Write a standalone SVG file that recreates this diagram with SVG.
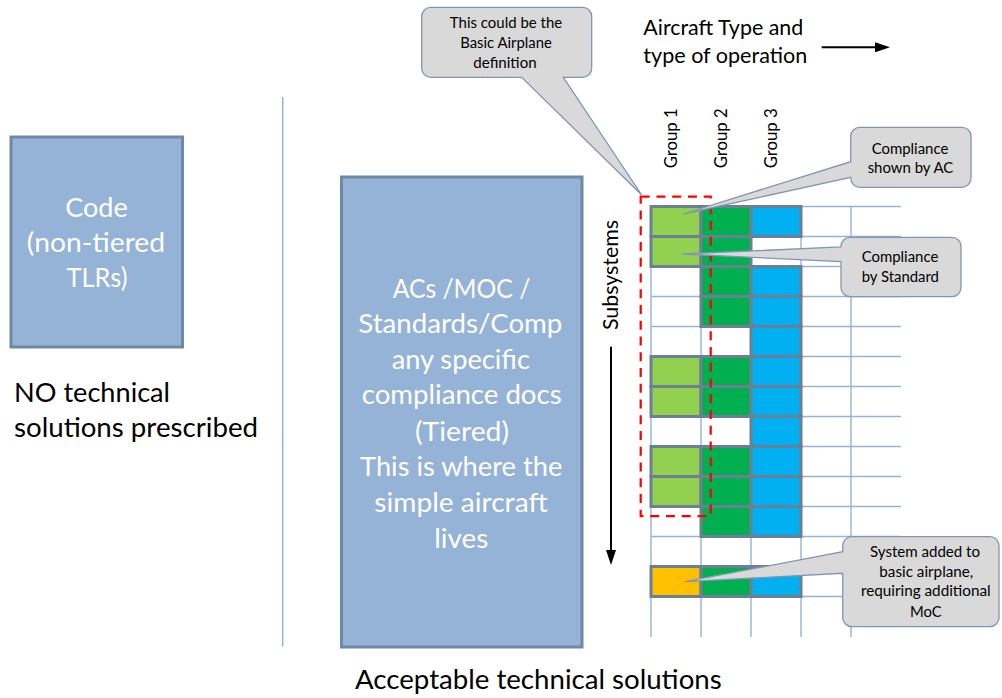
<svg xmlns="http://www.w3.org/2000/svg" width="1002" height="698" viewBox="0 0 1002 698">
  <style>
    .txt { font-family: Lato, "Liberation Sans", sans-serif; fill: #000000; }
    .big { font-size: 26.5px; }
    .mid { font-size: 20.7px; }
    .grp { font-size: 16.3px; }
    .note { font-size: 14.5px; text-anchor: middle; }
    .inbox { font-size: 26.5px; fill: #FFFFFF; text-anchor: middle; }
    .doc { fill: #95B3D7; stroke: #6F89A5; stroke-width: 3; }
    .divider { stroke: #95B3D7; stroke-width: 1.5; fill: none; }
    .gridline { stroke: #95B3D7; stroke-width: 1.4; fill: none; }
    .cell { stroke: #6D7F93; stroke-width: 3; }
    .g1 { fill: #92D050; }
    .g2 { fill: #00B050; }
    .g3 { fill: #00B0F0; }
    .add { fill: #FFC000; }
    .basic { fill: none; stroke: #FF0000; stroke-width: 2.25; stroke-dasharray: 9 6.75; }
    .callout { fill: #D9D9D9; stroke: #7F97B2; stroke-width: 1.3; }
    .arrow { stroke: #000000; stroke-width: 2; fill: none; marker-end: url(#head); }
  </style>
  <defs>
    <marker id="head" markerUnits="userSpaceOnUse" markerWidth="15" markerHeight="10" refX="5" refY="5" orient="auto">
      <path d="M0,0 L15,5 L0,10 Z" fill="#000000"/>
    </marker>
  </defs>

  <rect width="1002" height="698" fill="#FFFFFF"/>

  <!-- left: non-tiered code -->
  <g id="code">
    <rect class="doc" x="11" y="137" width="171.5" height="210"/>
    <text class="txt inbox" x="96.5" y="216.5" textLength="62.7" lengthAdjust="spacingAndGlyphs">Code</text>
    <text class="txt inbox" x="96" y="251.5" textLength="138.3" lengthAdjust="spacingAndGlyphs">(non-tiered</text>
    <text class="txt inbox" x="97" y="286.5" textLength="61" lengthAdjust="spacingAndGlyphs">TLRs)</text>
  </g>
  <g id="no-solutions">
    <text class="txt big" x="14" y="401.5" textLength="156" lengthAdjust="spacingAndGlyphs">NO technical</text>
    <text class="txt big" x="14" y="437" textLength="244" lengthAdjust="spacingAndGlyphs">solutions prescribed</text>
  </g>

  <line id="divider" class="divider" x1="282.7" y1="97" x2="282.7" y2="646.5"/>

  <!-- centre: tiered compliance documents -->
  <g id="tiered">
    <rect class="doc" x="341.5" y="177" width="240.5" height="470"/>
    <text class="txt inbox" x="461.5" y="297.5" textLength="137.7" lengthAdjust="spacingAndGlyphs">ACs /MOC /</text>
    <text class="txt inbox" x="460.3" y="333" textLength="204" lengthAdjust="spacingAndGlyphs">Standards/Comp</text>
    <text class="txt inbox" x="460.8" y="368.5" textLength="138.3" lengthAdjust="spacingAndGlyphs">any specific</text>
    <text class="txt inbox" x="461.7" y="404" textLength="200" lengthAdjust="spacingAndGlyphs">compliance docs</text>
    <text class="txt inbox" x="462" y="440.5" textLength="94" lengthAdjust="spacingAndGlyphs">(Tiered)</text>
    <text class="txt inbox" x="461.2" y="476" textLength="202.3" lengthAdjust="spacingAndGlyphs">This is where the</text>
    <text class="txt inbox" x="461" y="512" textLength="173.3" lengthAdjust="spacingAndGlyphs">simple aircraft</text>
    <text class="txt inbox" x="461.3" y="548" textLength="54" lengthAdjust="spacingAndGlyphs">lives</text>
  </g>
  <g id="acceptable">
    <text class="txt big" x="355" y="689" textLength="366.7" lengthAdjust="spacingAndGlyphs">Acceptable technical solutions</text>
  </g>

  <!-- axis labels -->
  <g id="axis-type">
    <text class="txt mid" x="643.3" y="35" textLength="160" lengthAdjust="spacingAndGlyphs">Aircraft Type and</text>
    <text class="txt mid" x="643.3" y="62.5" textLength="164" lengthAdjust="spacingAndGlyphs">type of operation</text>
  </g>
  <g id="axis-subsystems">
    <text class="txt mid" transform="translate(618,330) rotate(-90)" textLength="110" lengthAdjust="spacingAndGlyphs">Subsystems</text>
  </g>
  <g id="group-labels">
    <text class="txt grp" transform="translate(677.3,168.3) rotate(-90)" textLength="60" lengthAdjust="spacingAndGlyphs">Group 1</text>
    <text class="txt grp" transform="translate(726.9,168.3) rotate(-90)" textLength="60" lengthAdjust="spacingAndGlyphs">Group 2</text>
    <text class="txt grp" transform="translate(776.8,168.3) rotate(-90)" textLength="60" lengthAdjust="spacingAndGlyphs">Group 3</text>
  </g>

  <!-- matrix grid -->
  <g id="grid">
    <path class="gridline" d="M651,206.5 V637 M701,206.5 V637 M751,206.5 V637 M801,206.5 V637 M851,206.5 V637"/>
    <path class="gridline" d="M651,206.5 H901 M651,236.5 H901 M651,266.5 H901 M651,296.5 H901 M651,326.5 H901 M651,356.5 H901 M651,386.5 H901 M651,416.5 H901 M651,446.5 H901 M651,476.5 H901 M651,506.5 H901 M651,536.5 H901 M651,566.5 H901 M651,596.5 H901"/>
  </g>

  <!-- compliance cells: group 1 / group 2 / group 3 -->
  <g id="cells">
    <rect class="cell g1" x="651" y="206.5" width="50" height="30"/>
    <rect class="cell g2" x="701" y="206.5" width="50" height="30"/>
    <rect class="cell g3" x="751" y="206.5" width="50" height="30"/>

    <rect class="cell g1" x="651" y="236.5" width="50" height="30"/>
    <rect class="cell g2" x="701" y="236.5" width="50" height="30"/>

    <rect class="cell g2" x="701" y="266.5" width="50" height="30"/>
    <rect class="cell g3" x="751" y="266.5" width="50" height="30"/>

    <rect class="cell g2" x="701" y="296.5" width="50" height="30"/>
    <rect class="cell g3" x="751" y="296.5" width="50" height="30"/>

    <rect class="cell g3" x="751" y="326.5" width="50" height="30"/>

    <rect class="cell g1" x="651" y="356.5" width="50" height="30"/>
    <rect class="cell g2" x="701" y="356.5" width="50" height="30"/>
    <rect class="cell g3" x="751" y="356.5" width="50" height="30"/>

    <rect class="cell g1" x="651" y="386.5" width="50" height="30"/>
    <rect class="cell g2" x="701" y="386.5" width="50" height="30"/>
    <rect class="cell g3" x="751" y="386.5" width="50" height="30"/>

    <rect class="cell g3" x="751" y="416.5" width="50" height="30"/>

    <rect class="cell g1" x="651" y="446.5" width="50" height="30"/>
    <rect class="cell g2" x="701" y="446.5" width="50" height="30"/>
    <rect class="cell g3" x="751" y="446.5" width="50" height="30"/>

    <rect class="cell g1" x="651" y="476.5" width="50" height="30"/>
    <rect class="cell g2" x="701" y="476.5" width="50" height="30"/>
    <rect class="cell g3" x="751" y="476.5" width="50" height="30"/>

    <rect class="cell g2" x="701" y="506.5" width="50" height="30"/>
    <rect class="cell g3" x="751" y="506.5" width="50" height="30"/>

    <rect class="cell add" x="651" y="566.5" width="50" height="30"/>
    <rect class="cell g2" x="701" y="566.5" width="50" height="30"/>
    <rect class="cell g3" x="751" y="566.5" width="50" height="30"/>
  </g>

  <!-- basic airplane outline -->
  <rect id="basic-airplane" class="basic" x="640.7" y="196.5" width="70" height="319.5"/>

  <!-- direction arrows -->
  <g id="connectors">
    <line class="arrow" x1="821.7" y1="47.3" x2="880" y2="47.3"/>
    <line class="arrow" x1="611" y1="346.7" x2="611" y2="555"/>
  </g>

  <!-- callouts -->
  <g id="callout-basic">
    <path class="callout" d="M430.7,7.3 H582.7 A9,9 0 0 1 591.7,16.3 V68.3 A9,9 0 0 1 582.7,77.3 H563.3 L641.7,195 L521.7,77.3 H430.7 A9,9 0 0 1 421.7,68.3 V16.3 A9,9 0 0 1 430.7,7.3 Z"/>
    <text class="txt note" x="506" y="28.3" textLength="112.3" lengthAdjust="spacingAndGlyphs">This could be the</text>
    <text class="txt note" x="506" y="48" textLength="91.7" lengthAdjust="spacingAndGlyphs">Basic Airplane</text>
    <text class="txt note" x="505" y="67.7" textLength="63.3" lengthAdjust="spacingAndGlyphs">definition</text>
  </g>
  <g id="callout-ac">
    <path class="callout" d="M859.7,127.3 H962 A9,9 0 0 1 971,136.3 V178.3 A9,9 0 0 1 962,187.3 H859.7 A9,9 0 0 1 850.7,178.3 V177.3 L683.3,214 L850.7,161.7 V136.3 A9,9 0 0 1 859.7,127.3 Z"/>
    <text class="txt note" x="910" y="154" textLength="76.7" lengthAdjust="spacingAndGlyphs">Compliance</text>
    <text class="txt note" x="910.5" y="173.3" textLength="85.7" lengthAdjust="spacingAndGlyphs">shown by AC</text>
  </g>
  <g id="callout-standard">
    <path class="callout" d="M850,237.3 H952 A9,9 0 0 1 961,246.3 V287.7 A9,9 0 0 1 952,296.7 H850 A9,9 0 0 1 841,287.7 V261.7 L682.3,254 L841,247 V246.3 A9,9 0 0 1 850,237.3 Z"/>
    <text class="txt note" x="900" y="262.3" textLength="76.7" lengthAdjust="spacingAndGlyphs">Compliance</text>
    <text class="txt note" x="900.3" y="281.7" textLength="77.3" lengthAdjust="spacingAndGlyphs">by Standard</text>
  </g>
  <g id="callout-added">
    <path class="callout" d="M851.7,536.7 H990 A9,9 0 0 1 999,545.7 V617.7 A9,9 0 0 1 990,626.7 H851.7 A9,9 0 0 1 842.7,617.7 V573.3 L685,581.7 L842.7,551.7 V545.7 A9,9 0 0 1 851.7,536.7 Z"/>
    <text class="txt note" x="925" y="556.7" textLength="110" lengthAdjust="spacingAndGlyphs">System added to</text>
    <text class="txt note" x="926.3" y="576.7" textLength="94" lengthAdjust="spacingAndGlyphs">basic airplane,</text>
    <text class="txt note" x="925.8" y="596.3" textLength="129.7" lengthAdjust="spacingAndGlyphs">requiring additional</text>
    <text class="txt note" x="925.8" y="616.7" textLength="31.7" lengthAdjust="spacingAndGlyphs">MoC</text>
  </g>
</svg>
